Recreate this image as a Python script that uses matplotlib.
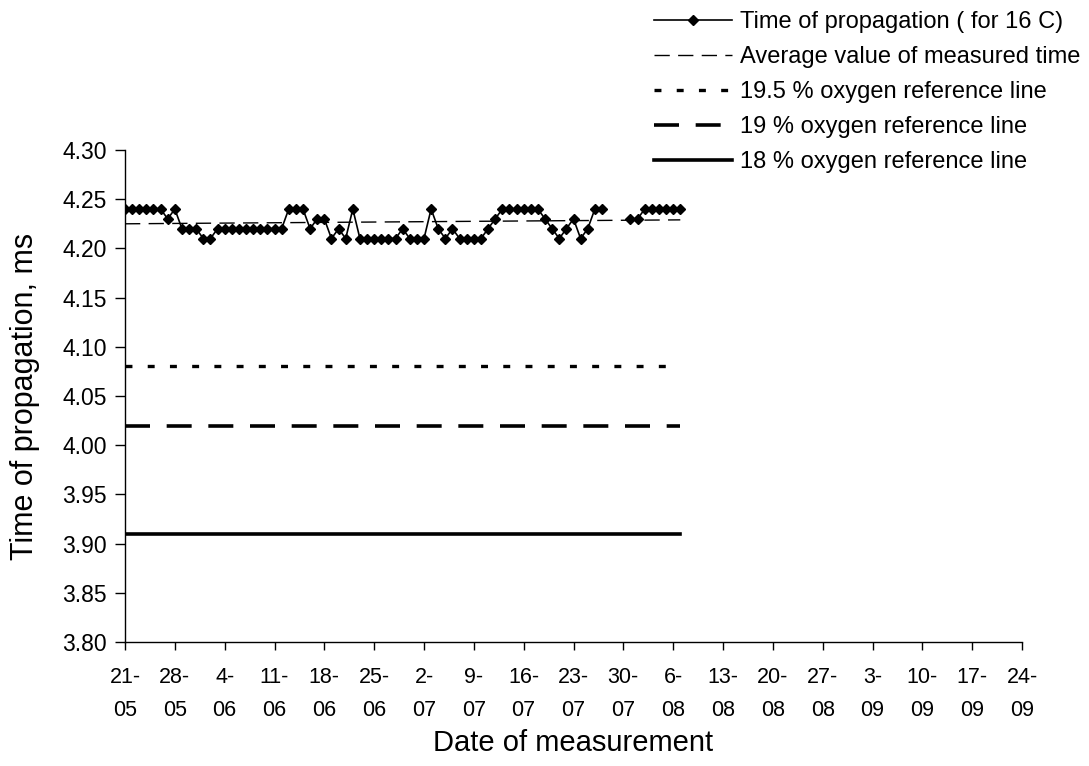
import numpy as np
import matplotlib
matplotlib.use("Agg")
import matplotlib.pyplot as plt

plt.rcParams['font.family'] = ['Liberation Sans', 'DejaVu Sans']
plt.rcParams['lines.scale_dashes'] = False

# Days since 21-05 (daily measurements, 21-05 .. 07-08)
days = list(range(79))
propagation = [4.24, 4.24, 4.24, 4.24, 4.24, 4.24, 4.23, 4.24, 4.22, 4.22,
               4.22, 4.21, 4.21, 4.22, 4.22, 4.22, 4.22, 4.22, 4.22, 4.22,
               4.22, 4.22, 4.22, 4.24, 4.24, 4.24, 4.22, 4.23, 4.23, 4.21,
               4.22, 4.21, 4.24, 4.21, 4.21, 4.21, 4.21, 4.21, 4.21, 4.22,
               4.21, 4.21, 4.21, 4.24, 4.22, 4.21, 4.22, 4.21, 4.21, 4.21,
               4.21, 4.22, 4.23, 4.24, 4.24, 4.24, 4.24, 4.24, 4.24, 4.23,
               4.22, 4.21, 4.22, 4.23, 4.21, 4.22, 4.24, 4.24, np.nan, np.nan,
               np.nan, 4.23, 4.23, 4.24, 4.24, 4.24, 4.24, 4.24, 4.24]

avg_days = [0, 78]
avg_values = [4.225, 4.229]
ref_days = [0, 78]
ref_195 = [4.08, 4.08]
ref_19 = [4.02, 4.02]
ref_18 = [3.91, 3.91]

tick_days = list(range(0, 127, 7))
tick_labels = ["21-\n05", "28-\n05", "4-\n06", "11-\n06", "18-\n06", "25-\n06",
               "2-\n07", "9-\n07", "16-\n07", "23-\n07", "30-\n07", "6-\n08",
               "13-\n08", "20-\n08", "27-\n08", "3-\n09", "10-\n09", "17-\n09",
               "24-\n09"]
y_ticks = [3.80, 3.85, 3.90, 3.95, 4.00, 4.05, 4.10, 4.15, 4.20, 4.25, 4.30]

fig = plt.figure(figsize=(10.89, 7.66), dpi=100)
ax = fig.add_axes([125/1089, 1-642/766, (1022-125)/1089, (642-150)/766])

ax.plot(days, propagation, color='black', lw=1.2, marker='D', markersize=5,
        label='Time of propagation ( for 16 C)')
ax.plot(avg_days, avg_values, color='black', lw=1.0, dashes=(11, 6),
        label='Average value of measured time')
ax.plot(ref_days, ref_195, color='black', lw=2.4, dashes=(5, 11),
        label='19.5 % oxygen reference line')
ax.plot(ref_days, ref_19, color='black', lw=2.6, dashes=(18, 12),
        label='19 % oxygen reference line')
ax.plot(ref_days, ref_18, color='black', lw=2.6,
        label='18 % oxygen reference line')

ax.set_xlim(0, 126)
ax.set_ylim(3.80, 4.30)
ax.set_xticks(tick_days)
ax.set_xticklabels(tick_labels, fontsize=15.5, linespacing=1.75)
ax.set_yticks(y_ticks)
ax.set_yticklabels([f"{v:.2f}" for v in y_ticks], fontsize=16.5)
ax.tick_params(axis='x', direction='out', length=6, width=1, pad=12)
ax.tick_params(axis='y', direction='out', length=7, width=1, pad=6)
for s in ['top', 'right']:
    ax.spines[s].set_visible(False)
for s in ['left', 'bottom']:
    ax.spines[s].set_linewidth(1)

ax.set_xlabel('Date of measurement', fontsize=21, labelpad=6)
ax.set_ylabel('Time of propagation, ms', fontsize=22, labelpad=16)

fig.legend(loc='upper left', bbox_to_anchor=(654/1089, 1-11/766), frameon=False,
           fontsize=17, handlelength=3.3, handletextpad=0.35, labelspacing=0.55,
           borderpad=0, borderaxespad=0)

fig.savefig('out.png', dpi=100)
